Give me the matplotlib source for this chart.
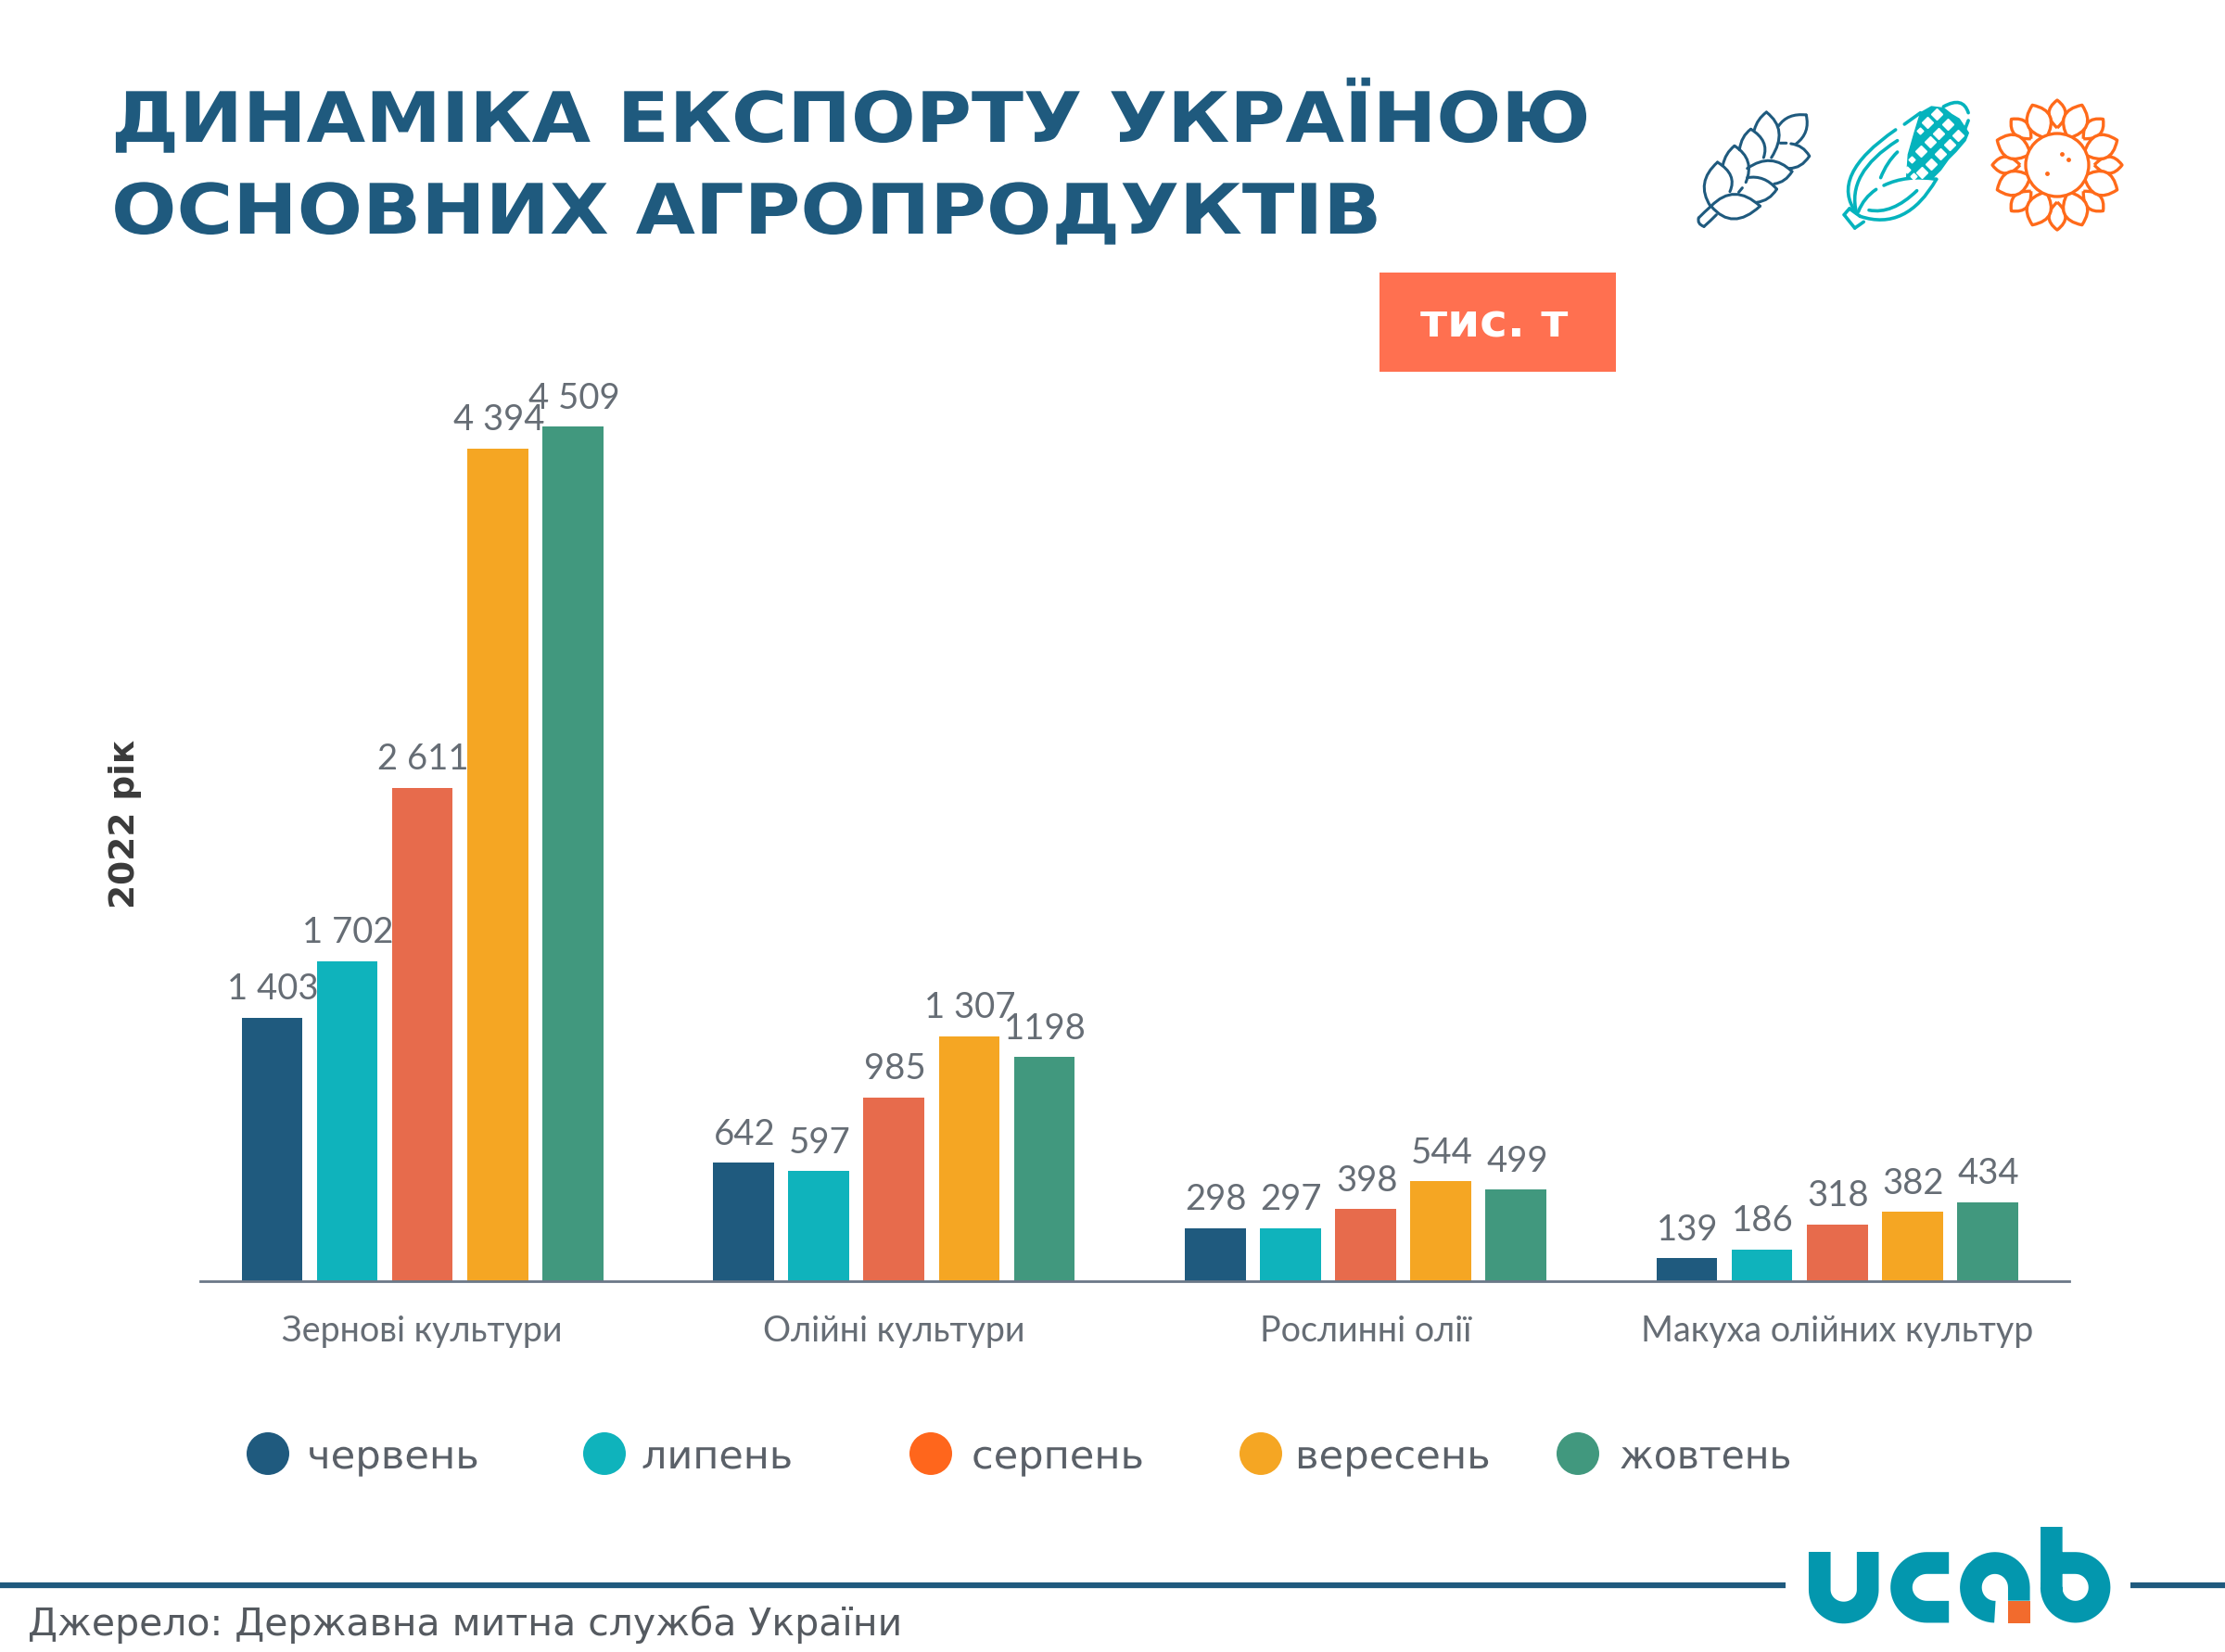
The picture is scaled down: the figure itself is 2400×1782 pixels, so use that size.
import numpy as np
import matplotlib
matplotlib.use('Agg')
import matplotlib.pyplot as plt
from matplotlib.patches import Circle, Rectangle, PathPatch, Polygon
from matplotlib.path import Path
from matplotlib.patheffects import AbstractPathEffect
from matplotlib.transforms import Affine2D

categories = ['Зернові культури', 'Олійні культури', 'Рослинні олії', 'Макуха олійних культур']
months = ['червень', 'липень', 'серпень', 'вересень', 'жовтень']
cherven = [1403, 642, 298, 139]
lypen = [1702, 597, 297, 186]
serpen = [2611, 985, 398, 318]
veresen = [4394, 1307, 544, 382]
zhovten = [4509, 1198, 499, 434]
labels_cherven = ['1 403', '642', '298', '139']
labels_lypen = ['1 702', '597', '297', '186']
labels_serpen = ['2 611', '985', '398', '318']
labels_veresen = ['4 394', '1 307', '544', '382']
labels_zhovten = ['4 509', '1198', '499', '434']

series = [cherven, lypen, serpen, veresen, zhovten]
series_labels = [labels_cherven, labels_lypen, labels_serpen, labels_veresen, labels_zhovten]
bar_colors = ['#1F5A7E', '#0FB3BC', '#E76B4C', '#F5A623', '#41987E']
legend_colors = ['#1F5A7E', '#0FB3BC', '#FF661C', '#F5A623', '#41987E']

BLUE = '#1F5A7E'
TEAL = '#05B3BD'
ORANGE = '#FF6A1A'
LOGO = '#0397AE'
GRAY = '#666D75'
LATO = ['Lato', 'DejaVu Sans']

W, H = 2400, 1782
fig = plt.figure(figsize=(24, 17.82), dpi=100, facecolor='white')


class StretchX(AbstractPathEffect):
    # the source uses an extended typeface, so widen the glyphs around a fixed x
    def __init__(self, sx, x0):
        super().__init__()
        self.sx = sx
        self.x0 = x0

    def draw_path(self, renderer, gc, tpath, affine, rgbFace=None):
        st = Affine2D().translate(-self.x0, 0).scale(self.sx, 1).translate(self.x0, 0)
        renderer.draw_path(gc, tpath, affine + st, rgbFace)


# chart
ax = fig.add_axes([216 / W, (H - 1382) / H, 2016 / W, 1088 / H])
x = np.arange(len(categories))
for i, vals in enumerate(series):
    xs = x + (i - 2) * 0.1595
    ax.bar(xs, vals, width=0.129, color=bar_colors[i], zorder=2)
    for xi, v, lab in zip(xs, vals, series_labels[i]):
        ax.annotate(lab, (xi, v), xytext=(0.8, 14), textcoords='offset points',
                    ha='center', va='baseline', fontsize=27.5, color=GRAY, family=LATO)

ax.set_xlim(-0.471, 3.492)
ax.set_ylim(19, 5319)
ax.set_yticks([])
ax.set_xticks(x)
ax.set_xticklabels(categories, fontsize=27.1, color=GRAY, family=LATO)
ax.tick_params(axis='x', length=0, pad=26)
for s in ['top', 'left', 'right']:
    ax.spines[s].set_visible(False)
ax.spines['bottom'].set_color('#6B7888')
ax.spines['bottom'].set_linewidth(2)
ax.patch.set_alpha(0)

# overlay in pixel coordinates for everything around the chart
ov = fig.add_axes([0, 0, 1, 1], zorder=5)
ov.set_xlim(0, W)
ov.set_ylim(H, 0)
ov.axis('off')

ov.text(120, 153, 'ДИНАМІКА ЕКСПОРТУ УКРАЇНОЮ', fontsize=54, fontweight='bold',
        color=BLUE, va='baseline', ha='left', family='DejaVu Sans',
        path_effects=[StretchX(1.095, 120)])
ov.text(120, 252, 'ОСНОВНИХ АГРОПРОДУКТІВ', fontsize=54, fontweight='bold',
        color=BLUE, va='baseline', ha='left', family='DejaVu Sans',
        path_effects=[StretchX(1.105, 120)])

ov.add_patch(Rectangle((1488, 294), 255, 107, color='#FF7050', lw=0))
ov.text(1612, 349, 'тис. т', fontsize=36, fontweight='bold', color='white',
        ha='center', va='center', family='DejaVu Sans')

ov.text(135, 889, '2022 рік', fontsize=27, fontweight='bold', color='#3A3A3A',
        rotation=90, ha='center', va='center', family='DejaVu Sans')

legend_dots = [289, 652, 1004, 1360, 1702]
legend_text = [331, 692, 1048, 1397, 1747]
legend_stretch = [1.04, 1.03, 1.035, 1.04, 0.98]
for i, m in enumerate(months):
    ov.add_patch(Circle((legend_dots[i], 1568), 23, color=legend_colors[i], lw=0))
    ov.text(legend_text[i], 1572, m, fontsize=30, color='#5A6068', ha='left', va='center',
            family='DejaVu Sans', path_effects=[StretchX(legend_stretch[i], legend_text[i])])

ov.text(30, 1752, 'Джерело: Державна митна служба України', fontsize=29.5, color='#555A60',
        ha='left', va='center', family='DejaVu Sans')


def to_px(pts, ox, oy, sx):
    pts = np.asarray(pts, dtype=float)
    return np.column_stack([ox + pts[:, 0] / sx, oy + pts[:, 1] / 3])


def curve(p0, c, p1, color, ox=1750, oy=60, sx=2.613, lw=2.2):
    verts = to_px([p0, c, p1], ox, oy, sx)
    path = Path(verts, [Path.MOVETO, Path.CURVE3, Path.CURVE3])
    ov.add_patch(PathPatch(path, fc='none', ec=color, lw=lw, capstyle='round'))


# wheat icon
wheat = [
    ((248, 487), (205, 410), (268, 345)), ((268, 345), (325, 385), (303, 440)),
    ((283, 355), (290, 315), (316, 292)), ((316, 292), (375, 335), (348, 410)),
    ((330, 305), (335, 260), (362, 238)), ((362, 238), (415, 275), (398, 330)),
    ((372, 240), (380, 205), (406, 183)), ((406, 183), (470, 240), (420, 330)),
    ((440, 228), (465, 185), (518, 192)), ((518, 192), (530, 250), (490, 285)),
    ((475, 285), (510, 290), (527, 325)), ((527, 325), (505, 365), (470, 365)),
    ((352, 365), (420, 310), (478, 375)), ((478, 375), (460, 410), (428, 415)),
    ((352, 395), (400, 385), (435, 432)), ((435, 432), (415, 470), (378, 475)),
    ((445, 283), (453, 283), (462, 283)), ((338, 428), (333, 435), (328, 442)),
    ((250, 487), (315, 410), (388, 487)), ((250, 487), (310, 570), (388, 487)),
    ((250, 487), (232, 505), (215, 525)), ((215, 525), (210, 545), (230, 553)),
    ((230, 553), (248, 535), (265, 515)),
]
for p0, c, p1 in wheat:
    curve(p0, c, p1, BLUE)

# corn icon
cob = to_px([(125, 65), (160, 45), (200, 50), (225, 70), (250, 85), (280, 130), (270, 155),
             (240, 190), (215, 215), (190, 250), (165, 275), (80, 272), (85, 200), (105, 130)],
            2030, 100, 3)
ov.add_patch(Polygon(cob, closed=True, fc=TEAL, ec=TEAL, lw=1, joinstyle='round'))
kernels = [(178, 68), (148, 97), (212, 102), (182, 132), (245, 137), (155, 160), (220, 167),
           (125, 188), (188, 198), (158, 230), (130, 258)]
small_kernels = [(122, 124), (97, 215), (80, 250), (103, 271)]
kx = to_px(kernels, 2030, 100, 3)
ov.plot(kx[:, 0], kx[:, 1], ls='none', marker='D', ms=6, mfc='white', mec='white', mew=1)
sx_ = to_px(small_kernels, 2030, 100, 3)
ov.plot(sx_[:, 0], sx_[:, 1], ls='none', marker='D', ms=3.5, mfc='white', mec='white', mew=1)
corn = [
    ((770, 240), (580, 390), (660, 510)), ((775, 275), (630, 380), (660, 510)),
    ((775, 312), (745, 345), (728, 395)), ((715, 433), (680, 460), (665, 505)),
    ((737, 420), (800, 385), (885, 400)), ((830, 437), (760, 515), (695, 500)),
    ((885, 400), (800, 570), (670, 520)), ((640, 495), (632, 505), (625, 515)),
    ((625, 515), (640, 537), (655, 558)), ((655, 558), (668, 548), (680, 538)),
    ((640, 495), (655, 508), (670, 520)), ((795, 222), (818, 203), (840, 185)),
    ((905, 165), (960, 130), (975, 185)), ((975, 210), (970, 225), (965, 240)),
]
for p0, c, p1 in corn:
    curve(p0, c, p1, TEAL, lw=2.6)

# sunflower icon
cx, cy = 2219, 178


def petal(angle, r0, r1, w):
    a = np.deg2rad(angle)
    u = np.array([np.cos(a), np.sin(a)])
    n = np.array([-u[1], u[0]])
    c0 = np.array([cx, cy])
    base = c0 + u * r0
    tip = c0 + u * r1
    mid = c0 + u * (r0 * 0.45 + r1 * 0.55)
    verts = [base, mid + n * w * 2, tip, mid - n * w * 2, base]
    codes = [Path.MOVETO, Path.CURVE3, Path.CURVE3, Path.CURVE3, Path.CURVE3]
    ov.add_patch(PathPatch(Path(verts, codes), fc='white', ec=ORANGE, lw=2.4, joinstyle='round'))


for k in range(8):
    petal(k * 45, 40, 70, 9)
for k in range(8):
    petal(22.5 + k * 45, 31, 70, 13)
ov.add_patch(Circle((cx, cy), 34, fc='white', ec=ORANGE, lw=2.4))
dots = to_px([(1238, 318), (1258, 336), (1197, 381)], 1750, 60, 2.613)
ov.plot(dots[:, 0], dots[:, 1], ls='none', marker='o', ms=3.5, color=ORANGE, mec='none')

# logo and footer rule
ov.plot([0, 1926], [1710, 1710], color=BLUE, lw=4.5, solid_capstyle='butt')
ov.plot([2298, 2400], [1710, 1710], color=BLUE, lw=4.5, solid_capstyle='butt')


def stroke(pts, lw):
    p = to_px(pts, 1850, 1600, 2.851)
    ov.plot(p[:, 0], p[:, 1], color=LOGO, lw=lw, solid_capstyle='butt', solid_joinstyle='round')


def arc(xc, yc, rx, ry, a0, a1):
    t = np.deg2rad(np.linspace(a0, a1, 40))
    return list(zip(xc + rx * np.cos(t), yc + ry * np.sin(t)))


LW = 17
stroke([(321.5, 222)] + arc(395.5, 344.5, 74, 74, 180, 0) + [(469.5, 222)], LW)
stroke([(719, 258), (652, 258)] + arc(652, 337, 79, 79, 270, 90) + [(719, 416)], LW)
stroke([(934.5, 380)] + arc(860.5, 337, 74, 79, 0, -270), LW)
stroke([(1034.5, 141), (1034.5, 337)] + arc(1108, 337, 74, 79, 180, -90) + [(1034.5, 258)], LW)
sq = to_px([(901, 380), (968, 380), (968, 452), (901, 452)], 1850, 1600, 2.851)
ov.add_patch(Polygon(sq, closed=True, fc='#F26B2D', ec='none'))

fig.savefig('out.png', dpi=100, facecolor='white')
